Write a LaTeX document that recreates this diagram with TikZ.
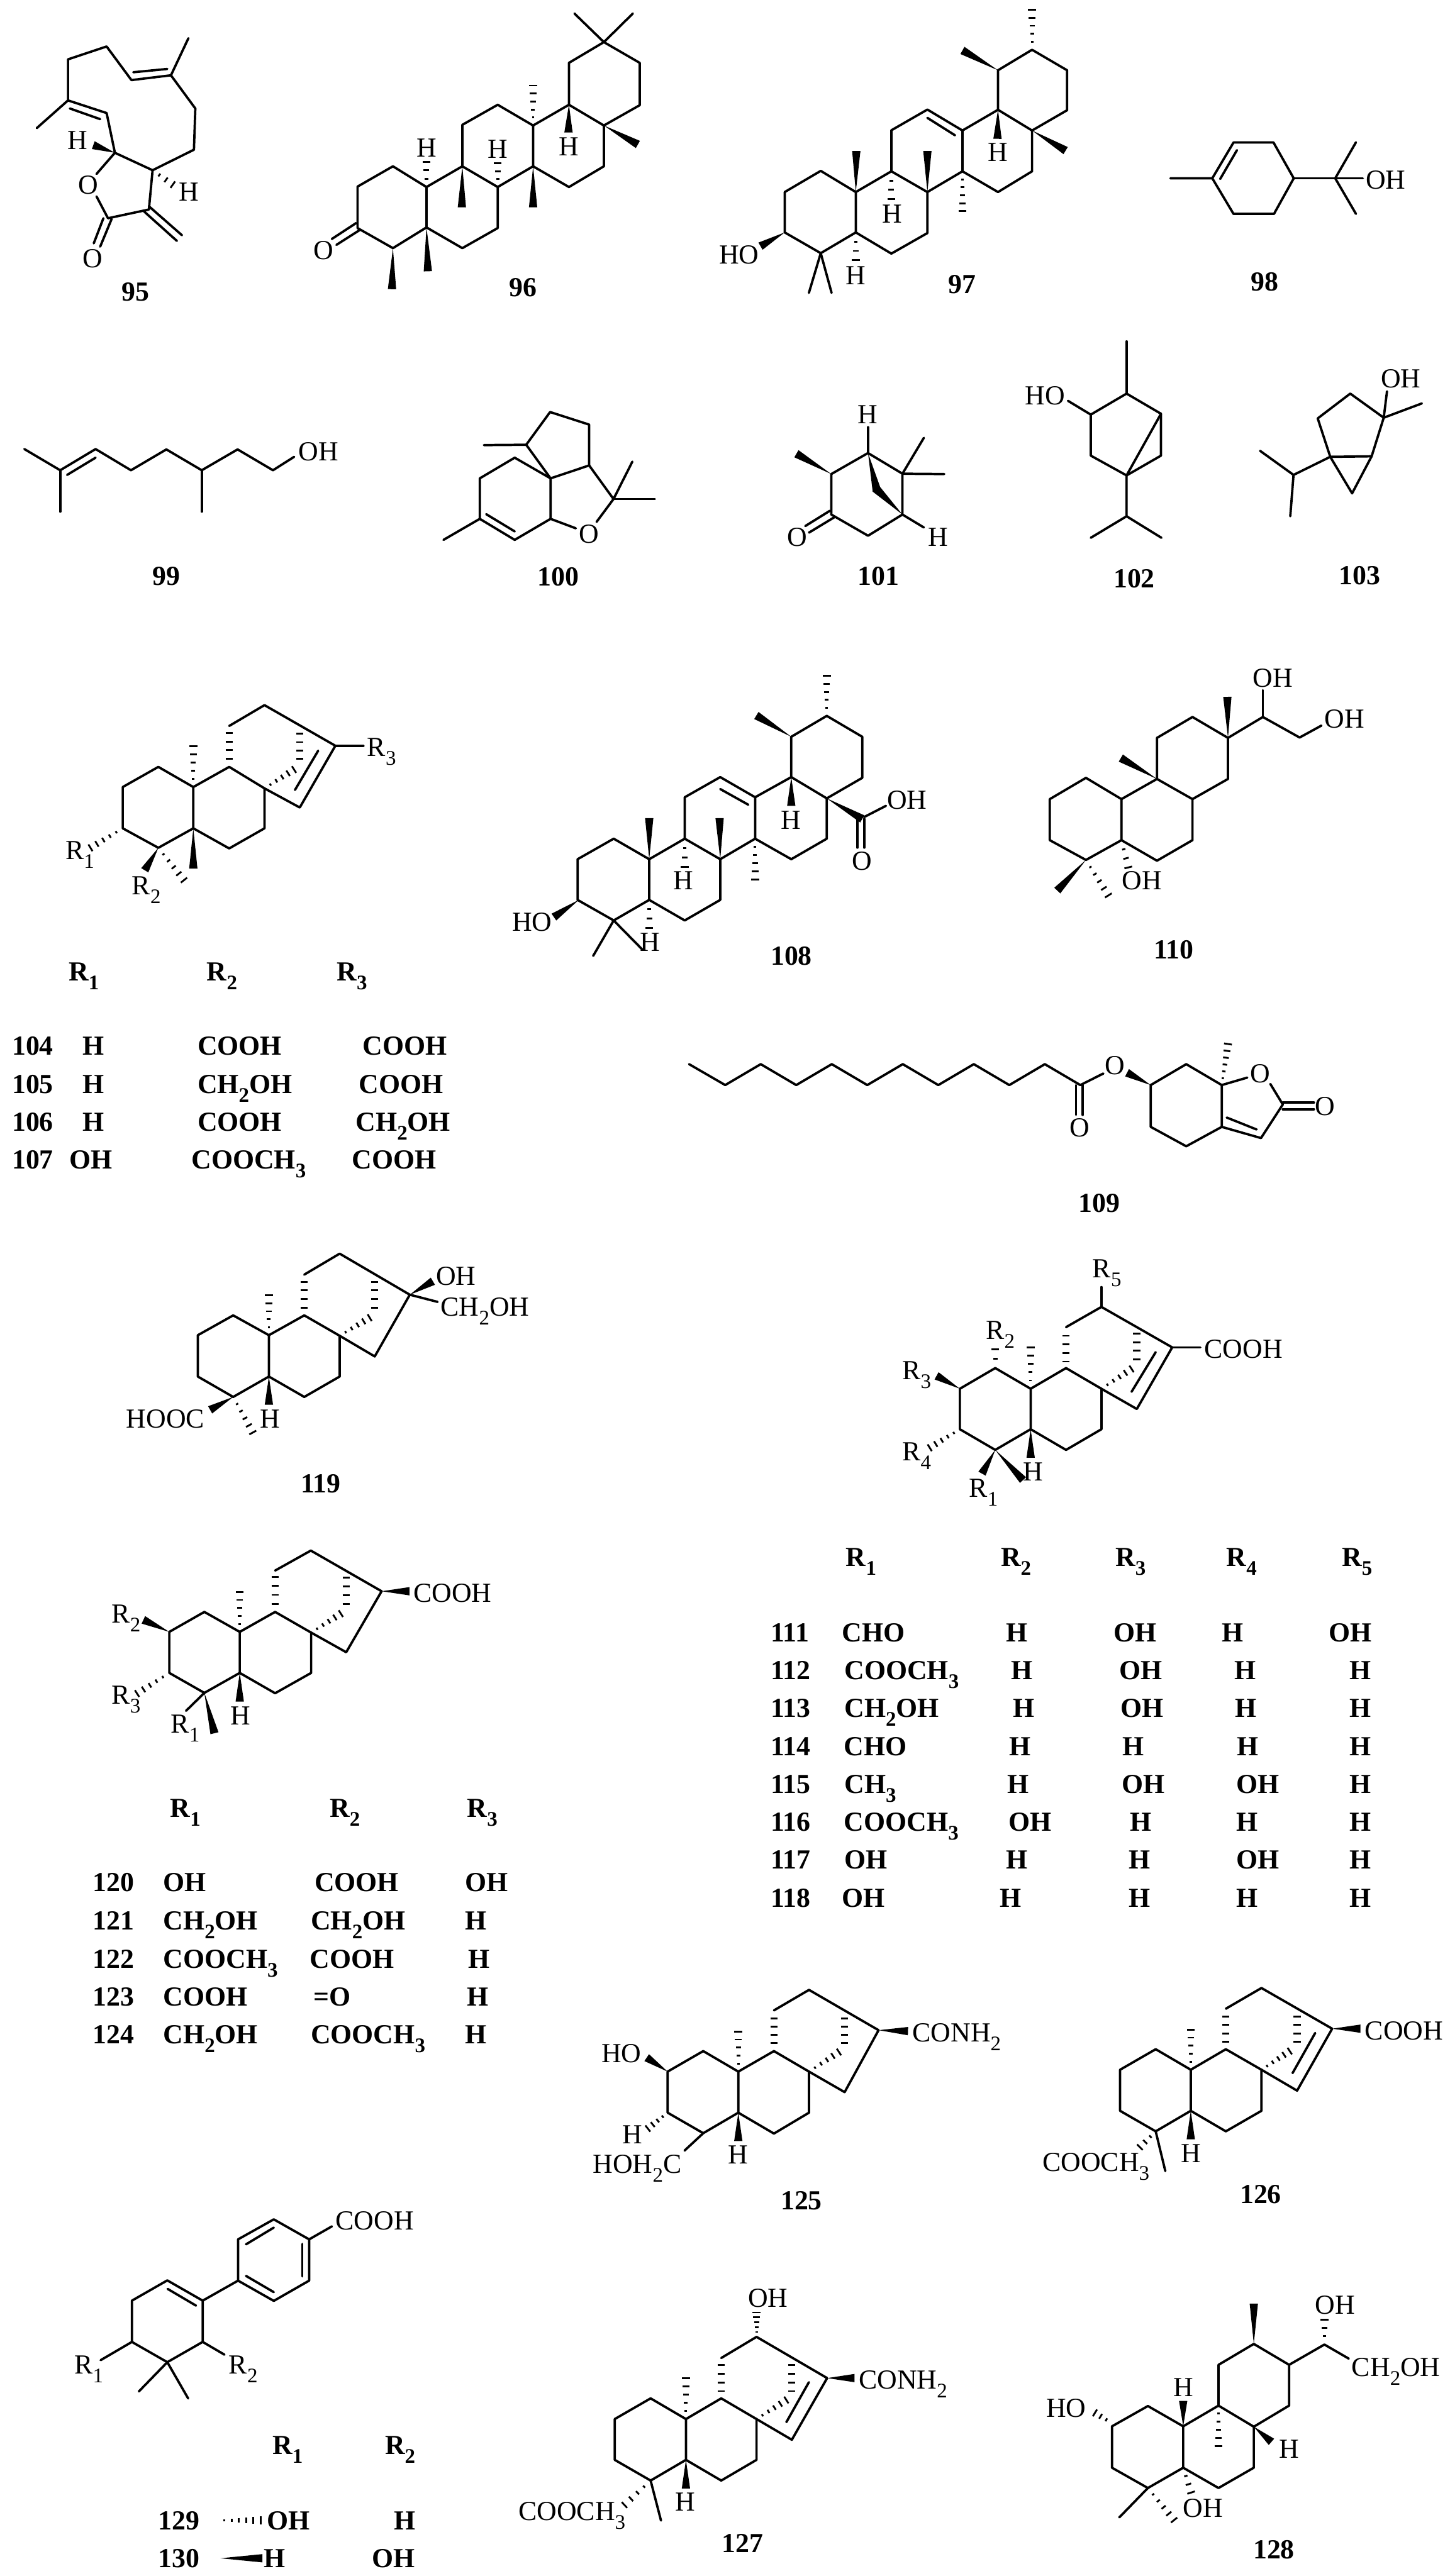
\documentclass[tikz,border=0pt]{standalone}
\usepackage{fontspec}
\setmainfont{Liberation Serif}
\usetikzlibrary{calc}
\newcounter{tn}
\tikzset{
  vw/.style n args={4}{shift={(#1*0.25pt,-#2*0.25pt)},x=#3/1568*0.25pt,y=-#4/1568*0.25pt},
  bond/.style={line width=1.3pt,line join=round,line cap=round,draw=black},
  hashb/.style={line width=1pt,draw=black},
  lbl/.style={anchor=base west,inner sep=0pt,outer sep=0pt,font=\fontsize{15.3}{16}\selectfont},
  lblb/.style={lbl,font=\fontsize{15.3}{16}\selectfont\bfseries}
}
\newcommand\sbt[1]{\raisebox{-.32em}{\fontsize{11.5}{12}\selectfont #1}}
\newcommand\lb[2]{\stepcounter{tn}\node[lbl] (t\arabic{tn}) at #1 {#2};}
\newcommand\lbb[2]{\stepcounter{tn}\node[lblb] (t\arabic{tn}) at #1 {#2};}
\newcommand\CHO{CH\sbt{2}OH}
\newcommand\CMe{COOCH\sbt{3}}
\newcommand\wdg[3][2.3pt]{\fill[black] #2 -- ($#3!#1!90:#2$) -- ($#3!#1!-90:#2$) -- cycle;}
\newcommand\hsh[3][5]{\foreach \i in {1,...,#1}{\pgfmathsetmacro\hT{\i/#1}\pgfmathsetlengthmacro\hW{0.3pt+1.9pt*\hT}\draw[hashb] ($#2!\hT!#3!\hW!90:#2$) -- ($#2!\hT!#3!\hW!-90:#2$);}}
\newcommand\hbr[3][4]{\coordinate (hfar) at ($#2!3!#3$);\foreach \i in {1,...,#1}{\pgfmathsetmacro\hT{(\i-1)/(#1-1)}\draw[hashb] ($#2!\hT!#3!2pt!90:(hfar)$) -- ($#2!\hT!#3!2pt!-90:(hfar)$);}}
\newcommand\rw[1]{\draw[bond] #1;}
\begin{document}
\begin{tikzpicture}
\fill[white] (0,0) rectangle (804.75pt,-1430.25pt);
\useasboundingbox (0,0) rectangle (804.75pt,-1430.25pt);

% ---- 95, 96
\begin{scope}[vw={0}{0}{1600}{760}]
\rw{(80,587)--(148,460)--(148,272)--(232,213)--(286,367)--(372,345)--(410,175)}
\rw{(372,345)--(425,497)--(422,686)--(332,780)--(250,700)--(232,518)--(148,460)}
\rw{(152,497)--(218,546)}\rw{(290,331)--(364,316)}
\rw{(250,700)--(210,797)}\rw{(332,780)--(324,960)--(235,1000)--(210,900)}
\rw{(243,1003)--(218,1130)}\rw{(225,1000)--(204,1115)}
\rw{(324,945)--(396,1078)}\rw{(314,970)--(385,1104)}
\wdg{(250,700)}{(203,665)}\hsh[3]{(332,780)}{(376,846)}
\lb{(147,683)}{H}\lb{(170,890)}{O}\lb{(180,1225)}{O}\lb{(390,920)}{H}
\lbb{(265,1380)}{95}
\rw{(778,855)--(855,762)--(928,857)--(928,1042)--(855,1137)--(778,1045)--cycle}
\rw{(928,857)--(1006,762)--(1083,857)--(1083,1045)--(1006,1137)--(928,1042)}
\rw{(1006,762)--(1006,572)--(1083,480)--(1160,575)--(1160,762)--(1083,857)}
\rw{(1160,575)--(1238,480)--(1238,288)--(1314,193)--(1392,288)--(1392,482)--(1314,575)--(1314,762)--(1238,857)--(1160,762)}
\rw{(1238,480)--(1314,575)}\rw{(1314,193)--(1250,62)}\rw{(1314,193)--(1377,62)}
\rw{(775,1022)--(722,1095)}\rw{(782,1055)--(732,1122)}
\wdg{(855,1137)}{(853,1325)}\wdg{(928,1042)}{(931,1243)}\wdg{(1006,762)}{(1005,950)}\wdg{(1160,762)}{(1160,950)}\wdg{(1238,480)}{(1237,607)}\wdg{(1314,575)}{(1388,662)}
\hsh[3]{(928,857)}{(928,742)}\hsh[3]{(1083,857)}{(1083,748)}\hsh{(1160,575)}{(1160,392)}
\lb{(683,1188)}{O}\lb{(907,718)}{H}\lb{(1062,725)}{H}\lb{(1216,712)}{H}
\lbb{(1108,1358)}{96}
\end{scope}

% ---- 97, 98
\begin{scope}[vw={1500}{0}{1719}{760}]
\rw{(221,880)--(294,783)--(365,880)--(365,1065)--(294,1160)--(221,1065)--cycle}
\rw{(365,880)--(437,785)--(510,880)--(510,1068)--(437,1162)--(365,1065)}
\rw{(437,785)--(437,597)--(510,502)--(581,598)--(581,785)--(510,880)}
\rw{(581,598)--(653,503)--(722,598)--(722,785)--(653,880)--(581,785)}
\rw{(653,503)--(653,322)--(722,228)--(793,322)--(793,505)--(722,598)}
\rw{(510,540)--(566,620)}
\rw{(294,1160)--(270,1342)}\rw{(294,1160)--(316,1342)}
\wdg{(221,1065)}{(172,1128)}\wdg{(365,880)}{(366,692)}\wdg{(510,880)}{(510,692)}\wdg{(653,503)}{(652,636)}\wdg{(722,598)}{(790,690)}\wdg{(653,322)}{(581,231)}
\hsh[3]{(365,1065)}{(365,1192)}\hsh[3]{(437,785)}{(437,912)}\hsh{(581,785)}{(581,968)}\hsh{(722,228)}{(722,45)}
\lb{(345,1303)}{H}\lb{(418,1022)}{H}\lb{(633,740)}{H}\lb{(88,1208)}{HO}
\lbb{(552,1345)}{97}
\rw{(1002,817)--(1087,817)--(1130,653)--(1211,653)--(1252,817)--(1212,980)--(1130,980)--(1087,817)}
\rw{(1252,817)--(1392,817)}\rw{(1336,817)--(1378,652)}\rw{(1336,817)--(1378,980)}
\rw{(1103,820)--(1137,688)}
\lb{(1398,867)}{OH}\lbb{(1165,1332)}{98}
\end{scope}

% ---- 99, 100
\begin{scope}[vw={0}{850}{1600}{600}]
\rw{(53,385)--(131,508)--(208,385)--(285,508)--(362,387)--(439,508)--(517,387)--(594,508)--(640,430)}
\rw{(131,508)--(131,748)}\rw{(439,508)--(439,748)}\rw{(146,535)--(208,435)}
\lb{(650,451)}{OH}\lbb{(332,1175)}{99}
\rw{(965,912)--(1044,790)--(1044,555)--(1120,435)--(1198,555)--(1198,790)--(1120,912)--(1044,790)}
\rw{(1058,763)--(1120,863)}
\rw{(1198,555)--(1145,360)--(1197,170)--(1282,243)--(1282,480)--(1198,555)}
\rw{(1145,360)--(1053,362)}
\rw{(1282,480)--(1335,675)--(1376,458)}\rw{(1335,675)--(1425,675)}\rw{(1335,675)--(1298,808)}
\rw{(1198,790)--(1253,845)}
\lb{(1260,930)}{O}\lbb{(1170,1180)}{100}
\end{scope}

% ---- 101, 102, 103
\begin{scope}[vw={1600}{850}{1619}{600}]
\rw{(238,530)--(317,408)--(391,528)--(391,765)--(317,888)--(238,765)--cycle}
\rw{(317,408)--(317,258)}\rw{(391,528)--(437,320)}\rw{(391,528)--(481,530)}
\wdg{(238,530)}{(163,412)}
\fill[black] (317,408)--(343,605)--(391,765)--(327,632)--cycle;
\rw{(235,743)--(182,832)}\rw{(245,780)--(190,870)}\rw{(391,765)--(437,840)}
\lb{(295,236)}{H}\lb{(143,950)}{O}\lb{(447,948)}{H}\lbb{(295,1175)}{101}
\rw{(796,185)--(873,63)--(947,180)--(947,423)--(873,538)--(796,423)--cycle}
\rw{(947,180)--(873,538)}\rw{(873,538)--(873,775)--(796,900)}\rw{(873,775)--(948,900)}
\rw{(796,185)--(747,105)}\rw{(873,63)--(873,-240)}
\lb{(655,127)}{HO}\lbb{(845,1188)}{102}
\rw{(1284,207)--(1354,63)--(1426,203)--(1400,427)--(1311,430)--(1284,207)}
\rw{(1311,430)--(1358,642)--(1400,427)}
\rw{(1311,430)--(1232,535)--(1160,395)}\rw{(1232,535)--(1225,775)}
\rw{(1426,203)--(1433,50)}\rw{(1426,203)--(1508,120)}
\lb{(1420,30)}{OH}\lbb{(1330,1172)}{103}
\end{scope}

% ---- 104-107
\begin{scope}[vw={0}{1500}{1050}{1150}]
\rw{(407,338)--(525,277)--(641,338)--(641,463)--(525,522)--(407,463)--cycle}
\rw{(641,338)--(760,277)--(877,342)--(877,463)--(760,524)--(641,463)}
\rw{(877,342)--(994,400)--(1112,213)--(877,90)--(760,153)}
\rw{(1112,213)--(1205,213)}\rw{(978,347)--(1055,228)}
\hsh{(641,338)}{(641,215)}\hbr{(760,252)}{(760,175)}\hbr{(994,252)}{(994,177)}
\hsh{(877,342)}{(975,285)}\hsh{(407,463)}{(300,522)}\hsh{(525,522)}{(610,620)}
\wdg{(525,522)}{(480,590)}\wdg{(641,463)}{(641,585)}
\lb{(1218,245)}{R\sbt{3}}\lb{(217,557)}{R\sbt{1}}\lb{(438,663)}{R\sbt{2}}
\lbb{(228,925)}{R\sbt{1}}\lbb{(686,925)}{R\sbt{2}}\lbb{(1117,925)}{R\sbt{3}}
\lbb{(40,1150)}{104}\lbb{(275,1150)}{H}\lbb{(655,1150)}{COOH}\lbb{(1203,1150)}{COOH}
\lbb{(40,1265)}{105}\lbb{(275,1265)}{H}\lbb{(655,1265)}{\CHO}\lbb{(1190,1265)}{COOH}
\lbb{(40,1380)}{106}\lbb{(275,1380)}{H}\lbb{(655,1380)}{COOH}\lbb{(1180,1380)}{\CHO}
\lbb{(40,1495)}{107}\lbb{(230,1495)}{OH}\lbb{(635,1495)}{\CMe}\lbb{(1168,1495)}{COOH}
\end{scope}

% ---- 108, 110, 109
\begin{scope}[vw={1050}{1400}{2169}{1300}]
\rw{(168,613)--(226,558)--(283,613)--(283,722)--(226,777)--(168,722)--cycle}
\rw{(283,613)--(340,558)--(397,613)--(397,722)--(340,777)--(283,722)}
\rw{(340,558)--(340,447)--(397,393)--(453,447)--(453,558)--(397,613)}
\rw{(453,447)--(511,393)--(568,450)--(568,558)--(511,613)--(453,558)}
\rw{(511,393)--(511,285)--(568,229)--(625,285)--(625,395)--(568,450)}
\rw{(397,425)--(442,467)}
\wdg{(170,722)}{(130,768)}\wdg{(283,613)}{(283,503)}\wdg{(397,613)}{(396,503)}\wdg{(511,393)}{(511,470)}\wdg{(568,450)}{(625,505)}\wdg{(511,285)}{(455,228)}
\hsh[3]{(340,558)}{(340,633)}\hsh{(453,558)}{(453,667)}\hsh[3]{(283,722)}{(283,797)}\hsh{(568,229)}{(568,122)}
\rw{(226,777)--(193,872)}\rw{(226,777)--(272,855)}
\rw{(628,500)--(663,470)}\rw{(617,505)--(617,582)}\rw{(628,505)--(628,582)}
\lb{(322,695)}{H}\lb{(268,860)}{H}\lb{(63,806)}{HO}\lb{(495,532)}{H}\lb{(665,478)}{OH}\lb{(609,642)}{O}
\lbb{(478,897)}{108}
\rw{(926,452)--(984,395)--(1041,452)--(1041,562)--(984,615)--(926,562)--cycle}
\rw{(1041,452)--(1098,398)--(1155,452)--(1155,562)--(1098,617)--(1041,562)}
\rw{(1098,398)--(1098,288)--(1155,232)--(1212,288)--(1212,398)--(1155,452)}
\rw{(1212,288)--(1268,232)--(1327,287)--(1362,255)}\rw{(1268,232)--(1268,160)}
\wdg{(1212,288)}{(1211,178)}\wdg{(1098,398)}{(1040,342)}\wdg{(984,615)}{(938,697)}
\hsh{(984,615)}{(1020,710)}\hsh[3]{(1041,562)}{(1052,635)}
\lb{(1252,152)}{OH}\lb{(1367,262)}{OH}\lb{(1042,695)}{OH}\lbb{(1093,880)}{110}
\rw{(347,1162)--(405,1218)--(462,1162)--(519,1218)--(576,1162)--(633,1218)--(690,1162)--(747,1218)--(804,1162)--(861,1218)--(918,1162)--(975,1218)--(1012,1187)}
\rw{(968,1218)--(968,1298)}\rw{(979,1218)--(979,1298)}
\wdg{(1088,1218)}{(1050,1185)}
\rw{(1088,1218)--(1145,1162)--(1202,1218)--(1202,1330)--(1145,1382)--(1088,1330)--cycle}
\rw{(1202,1218)--(1243,1198)}\rw{(1280,1215)--(1300,1270)--(1265,1360)--(1202,1330)}
\rw{(1210,1305)--(1258,1337)}\rw{(1300,1265)--(1350,1265)}\rw{(1300,1283)--(1350,1283)}
\hsh[6]{(1202,1218)}{(1212,1108)}
\lb{(958,1357)}{O}\lb{(1015,1190)}{O}\lb{(1248,1212)}{O}\lb{(1352,1300)}{O}\lbb{(972,1558)}{109}
\end{scope}

% ---- 119
\begin{scope}[vw={200}{2700}{1100}{1000}]
\rw{(341,416)--(453,347)--(566,416)--(566,560)--(453,631)--(341,560)--cycle}
\rw{(566,416)--(678,347)--(790,418)--(790,560)--(678,631)--(566,560)}
\rw{(790,418)--(901,490)--(1012,275)--(790,132)--(678,205)}
\rw{(1012,275)--(1100,300)}
\wdg{(1012,275)}{(1085,228)}\wdg{(453,631)}{(380,676)}\wdg{(566,560)}{(566,658)}
\hsh{(566,416)}{(566,277)}\hbr{(678,320)}{(678,230)}\hbr{(901,320)}{(901,230)}
\hsh{(790,418)}{(885,355)}\hsh{(453,631)}{(515,755)}
\lb{(1095,242)}{OH}\lb{(1110,348)}{\CHO}\lb{(115,740)}{HOOC}\lb{(538,740)}{H}\lbb{(667,965)}{119}
\end{scope}

% ---- 111-118
\begin{scope}[vw={1600}{2780}{1400}{1500}]
\rw{(595,318)--(683,270)--(771,318)--(771,412)--(683,460)--(595,412)--cycle}
\rw{(771,318)--(859,270)--(947,318)--(947,412)--(859,460)--(771,412)}
\rw{(947,318)--(1035,365)--(1123,222)--(947,128)--(859,175)}
\rw{(1123,222)--(1193,222)}\rw{(947,128)--(947,82)}\rw{(1022,325)--(1082,233)}
\wdg{(595,318)}{(537,288)}\wdg{(771,412)}{(771,478)}\wdg{(683,460)}{(650,515)}\wdg{(683,460)}{(752,530)}
\hsh[2]{(683,270)}{(683,227)}\hsh{(771,318)}{(771,222)}\hbr{(859,255)}{(859,195)}\hbr{(1035,250)}{(1035,190)}
\hsh{(947,318)}{(1022,272)}\hsh{(595,412)}{(520,455)}
\lb{(925,60)}{R\sbt{5}}\lb{(1203,247)}{COOH}\lb{(660,203)}{R\sbt{2}}\lb{(452,297)}{R\sbt{3}}\lb{(452,485)}{R\sbt{4}}\lb{(618,570)}{R\sbt{1}}\lb{(752,532)}{H}
\lbb{(312,730)}{R\sbt{1}}\lbb{(697,730)}{R\sbt{2}}\lbb{(982,730)}{R\sbt{3}}\lbb{(1258,730)}{R\sbt{4}}\lbb{(1545,730)}{R\sbt{5}}
\lbb{(125,905)}{111}\lbb{(302,905)}{CHO}\lbb{(710,905)}{H}\lbb{(977,905)}{OH}\lbb{(1247,905)}{H}\lbb{(1513,905)}{OH}
\lbb{(125,993)}{112}\lbb{(308,993)}{\CMe}\lbb{(722,993)}{H}\lbb{(992,993)}{OH}\lbb{(1278,993)}{H}\lbb{(1565,993)}{H}
\lbb{(125,1081)}{113}\lbb{(308,1081)}{\CHO}\lbb{(727,1081)}{H}\lbb{(995,1081)}{OH}\lbb{(1280,1081)}{H}\lbb{(1565,1081)}{H}
\lbb{(125,1169)}{114}\lbb{(307,1169)}{CHO}\lbb{(718,1169)}{H}\lbb{(1000,1169)}{H}\lbb{(1285,1169)}{H}\lbb{(1565,1169)}{H}
\lbb{(125,1257)}{115}\lbb{(308,1257)}{CH\sbt{3}}\lbb{(713,1257)}{H}\lbb{(998,1257)}{OH}\lbb{(1283,1257)}{OH}\lbb{(1565,1257)}{H}
\lbb{(125,1345)}{116}\lbb{(307,1345)}{\CMe}\lbb{(716,1345)}{OH}\lbb{(1018,1345)}{H}\lbb{(1283,1345)}{H}\lbb{(1565,1345)}{H}
\lbb{(125,1433)}{117}\lbb{(308,1433)}{OH}\lbb{(710,1433)}{H}\lbb{(1015,1433)}{H}\lbb{(1283,1433)}{OH}\lbb{(1565,1433)}{H}
\lbb{(125,1521)}{118}\lbb{(302,1521)}{OH}\lbb{(695,1521)}{H}\lbb{(1015,1521)}{H}\lbb{(1282,1521)}{H}\lbb{(1565,1521)}{H}
\end{scope}

% ---- 120-124
\begin{scope}[vw={150}{3400}{1100}{1200}]
\rw{(322,293)--(433,235)--(545,293)--(545,412)--(433,470)--(322,412)--cycle}
\rw{(545,293)--(657,235)--(771,295)--(771,412)--(657,471)--(545,412)}
\rw{(771,295)--(882,352)--(994,175)--(770,57)--(657,115)}
\wdg{(994,175)}{(1082,175)}\wdg{(322,293)}{(240,258)}\wdg{(545,412)}{(545,495)}\wdg{(433,470)}{(465,587)}
\rw{(433,470)--(375,522)}
\hsh{(545,293)}{(545,177)}\hbr{(657,212)}{(657,133)}\hbr{(882,212)}{(882,135)}
\hsh{(771,295)}{(865,240)}\hsh{(322,412)}{(220,472)}
\lb{(1095,207)}{COOH}\lb{(140,266)}{R\sbt{2}}\lb{(140,503)}{R\sbt{3}}\lb{(327,587)}{R\sbt{1}}\lb{(515,562)}{H}
\lbb{(325,830)}{R\sbt{1}}\lbb{(830,830)}{R\sbt{2}}\lbb{(1265,830)}{R\sbt{3}}
\lbb{(80,1047)}{120}\lbb{(303,1047)}{OH}\lbb{(782,1047)}{COOH}\lbb{(1258,1047)}{OH}
\lbb{(80,1157)}{121}\lbb{(303,1157)}{\CHO}\lbb{(770,1157)}{\CHO}\lbb{(1258,1157)}{H}
\lbb{(80,1268)}{122}\lbb{(303,1268)}{\CMe}\lbb{(767,1268)}{COOH}\lbb{(1268,1268)}{H}
\lbb{(80,1378)}{123}\lbb{(303,1378)}{COOH}\lbb{(778,1378)}{=O}\lbb{(1264,1378)}{H}
\lbb{(80,1488)}{124}\lbb{(303,1488)}{\CHO}\lbb{(770,1488)}{\CMe}\lbb{(1258,1488)}{H}
\end{scope}

% ---- 125, 126
\begin{scope}[vw={1250}{4350}{1969}{650}]
\rw{(185,605)--(248,495)--(310,605)--(310,825)--(248,935)--(185,825)--cycle}
\rw{(310,605)--(373,495)--(435,605)--(435,825)--(373,937)--(310,825)}
\rw{(435,605)--(498,715)--(558,383)--(435,167)--(373,277)}
\wdg{(558,383)}{(610,388)}\wdg{(185,605)}{(148,530)}\wdg{(310,825)}{(310,977)}
\rw{(248,935)--(215,1028)}
\hsh{(310,605)}{(310,390)}\hbr{(373,452)}{(373,320)}\hbr{(498,452)}{(498,320)}
\hsh{(435,605)}{(488,500)}\hsh[4]{(185,825)}{(150,910)}
\lb{(618,445)}{CONH\sbt{2}}\lb{(68,555)}{HO}\lb{(105,992)}{H}\lb{(53,1150)}{HOH\sbt{2}C}\lb{(292,1100)}{H}\lbb{(385,1345)}{125}
\rw{(985,595)--(1048,485)--(1110,595)--(1110,815)--(1048,925)--(985,815)--cycle}
\rw{(1110,595)--(1172,485)--(1235,595)--(1235,815)--(1172,925)--(1110,815)}
\rw{(1235,595)--(1298,707)--(1360,375)--(1235,157)--(1172,268)}
\rw{(1290,613)--(1330,398)}
\wdg{(1360,375)}{(1410,375)}\wdg{(1110,815)}{(1110,968)}
\rw{(1048,925)--(1065,1138)}
\hsh{(1110,595)}{(1110,380)}\hbr{(1172,445)}{(1172,310)}\hbr{(1298,445)}{(1298,310)}
\hsh{(1235,595)}{(1285,495)}\hsh[3]{(1048,925)}{(1020,1010)}
\lb{(1418,435)}{COOH}\lb{(848,1138)}{\CMe}\lb{(1093,1092)}{H}\lbb{(1197,1310)}{126}
\end{scope}

% ---- 129, 130
\begin{scope}[vw={100}{4850}{1100}{871}]
\rw{(275,467)--(387,386)--(499,467)--(499,632)--(387,713)--(275,632)--cycle}
\rw{(611,387)--(611,222)--(724,142)--(836,222)--(836,387)--(724,468)--cycle}
\rw{(499,467)--(611,387)}\rw{(836,222)--(908,170)}
\rw{(388,420)--(478,487)}\rw{(636,242)--(724,175)}\rw{(814,240)--(814,370)}\rw{(636,368)--(724,433)}
\rw{(275,632)--(176,705)}\rw{(499,632)--(568,683)}\rw{(387,713)--(297,830)}\rw{(387,713)--(453,858)}
\lb{(920,184)}{COOH}\lb{(93,760)}{R\sbt{1}}\lb{(582,760)}{R\sbt{2}}
\lbb{(720,1082)}{R\sbt{1}}\lbb{(1076,1082)}{R\sbt{2}}
\lbb{(358,1383)}{129}\lbb{(703,1383)}{OH}\lbb{(1105,1383)}{H}
\lbb{(358,1535)}{130}\lbb{(692,1535)}{H}\lbb{(1035,1535)}{OH}
\hsh[6]{(545,1345)}{(682,1345)}\wdg{(555,1497)}{(688,1497)}
\end{scope}

% ---- 127, 128
\begin{scope}[vw={1100}{5000}{2119}{721}]
\rw{(196,810)--(255,710)--(313,810)--(313,1007)--(255,1107)--(196,1007)--cycle}
\rw{(313,810)--(371,710)--(429,810)--(429,1007)--(371,1107)--(313,1007)}
\rw{(429,810)--(487,910)--(545,612)--(429,413)--(371,515)}
\rw{(478,825)--(515,632)}
\wdg{(545,612)}{(590,612)}\wdg{(313,1007)}{(313,1145)}\rw{(255,1107)--(272,1300)}
\hsh{(429,413)}{(429,295)}\hsh{(313,810)}{(313,612)}\hbr{(371,675)}{(371,550)}\hbr{(487,675)}{(487,550)}
\hsh{(429,810)}{(478,718)}\hsh[4]{(255,1107)}{(212,1225)}
\lb{(597,665)}{CONH\sbt{2}}\lb{(415,268)}{OH}\lb{(38,1298)}{\CMe}\lb{(296,1255)}{H}\lbb{(372,1455)}{127}
\rw{(1013,845)--(1072,747)--(1130,845)--(1130,1045)--(1072,1143)--(1013,1045)--cycle}
\rw{(1130,845)--(1188,745)--(1246,847)--(1246,1045)--(1188,1143)--(1130,1045)}
\rw{(1188,745)--(1188,548)--(1246,447)--(1304,548)--(1304,745)--(1246,847)}
\rw{(1304,548)--(1362,450)--(1402,518)}
\wdg{(1246,447)}{(1246,252)}\wdg{(1130,845)}{(1130,722)}\wdg{(1246,847)}{(1275,920)}
\hsh[3]{(1362,450)}{(1362,330)}\hsh{(1188,745)}{(1188,940)}\hsh[3]{(1013,830)}{(985,780)}\hsh[3]{(1130,1045)}{(1143,1165)}\hsh{(1072,1143)}{(1115,1298)}
\rw{(1072,1143)--(1025,1285)}
\lb{(1347,303)}{OH}\lb{(1407,603)}{\CHO}\lb{(1114,702)}{H}\lb{(905,800)}{HO}\lb{(1288,997)}{H}\lb{(1130,1285)}{OH}\lbb{(1245,1483)}{128}
\end{scope}
\end{tikzpicture}
\end{document}
